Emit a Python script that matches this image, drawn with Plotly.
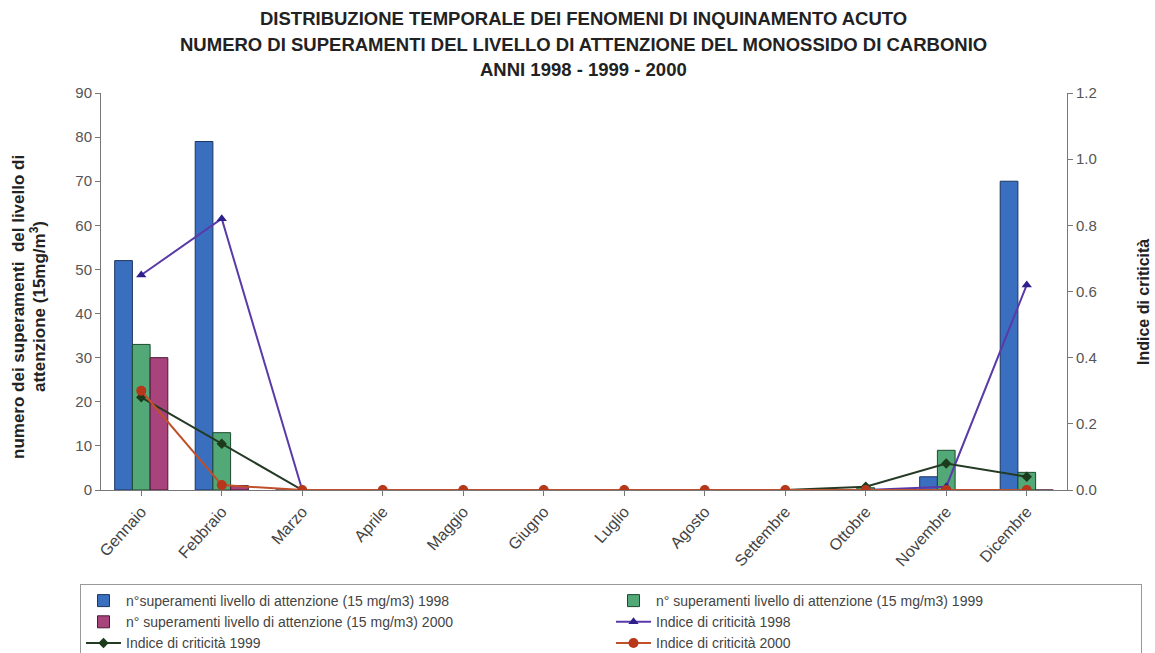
import plotly.graph_objects as go

months = ["Gennaio", "Febbraio", "Marzo", "Aprile", "Maggio", "Giugno",
          "Luglio", "Agosto", "Settembre", "Ottobre", "Novembre", "Dicembre"]

sup_1998 = [52, 79, 0, 0, 0, 0, 0, 0, 0, 0, 3, 70]
sup_1999 = [33, 13, 0, 0, 0, 0, 0, 0, 0, 0.5, 9, 4]
sup_2000 = [30, 1, 0, 0, 0, 0, 0, 0, 0, 0, 0, 0]

ind_1998 = [0.65, 0.82, 0.0, 0.0, 0.0, 0.0, 0.0, 0.0, 0.0, 0.0, 0.01, 0.62]
ind_1999 = [0.28, 0.14, 0.0, 0.0, 0.0, 0.0, 0.0, 0.0, 0.0, 0.01, 0.08, 0.04]
ind_2000 = [0.30, 0.015, 0.0, 0.0, 0.0, 0.0, 0.0, 0.0, 0.0, 0.0, 0.0, 0.0]

left_ticks = [0, 10, 20, 30, 40, 50, 60, 70, 80, 90]
right_ticks = [0.0, 0.2, 0.4, 0.6, 0.8, 1.0, 1.2]

title_lines = [
    "DISTRIBUZIONE TEMPORALE DEI FENOMENI DI INQUINAMENTO ACUTO",
    "NUMERO DI SUPERAMENTI DEL LIVELLO DI ATTENZIONE DEL MONOSSIDO DI CARBONIO",
    "ANNI 1998 - 1999 - 2000",
]
left_title_lines = ["numero dei superamenti  del livello di", "attenzione (15mg/m<sup>3</sup>)"]
right_title = "Indice di criticità"

FONT = "Arial, 'Liberation Sans', sans-serif"

# plot area in pixels
L, R, T, B = 101, 1067, 93, 490
PW, PH = R - L, B - T


def px_x(x):
    return (x - L) / PW


def px_y(y):
    return (B - y) / PH


fig = go.Figure()
fig.add_trace(go.Bar(x=months, y=sup_1998, name="n°superamenti livello di attenzione (15 mg/m3) 1998",
                     marker=dict(color="#3a6fc0", line=dict(color="#1c3560", width=1))))
fig.add_trace(go.Bar(x=months, y=sup_1999, name="n° superamenti livello di attenzione (15 mg/m3) 1999",
                     marker=dict(color="#52a876", line=dict(color="#1d4a30", width=1))))
fig.add_trace(go.Bar(x=months, y=sup_2000, name="n° superamenti livello di attenzione (15 mg/m3) 2000",
                     marker=dict(color="#a8437c", line=dict(color="#4a1a35", width=1))))
fig.add_trace(go.Scatter(x=months, y=ind_1998, name="Indice di criticità 1998", yaxis="y2",
                         mode="lines+markers", line=dict(color="#5a3aa8", width=2),
                         marker=dict(symbol="triangle-up", size=9, color="#2e1f8c")))
fig.add_trace(go.Scatter(x=months, y=ind_1999, name="Indice di criticità 1999", yaxis="y2",
                         mode="lines+markers", line=dict(color="#243a24", width=2),
                         marker=dict(symbol="diamond", size=8, color="#1c3a1c")))
fig.add_trace(go.Scatter(x=months, y=ind_2000, name="Indice di criticità 2000", yaxis="y2",
                         mode="lines+markers", line=dict(color="#c0502a", width=2),
                         marker=dict(symbol="circle", size=10, color="#b8361a")))

annotations = []
for i, line in enumerate(title_lines):
    annotations.append(dict(
        text="<b>" + line + "</b>", xref="paper", yref="paper",
        x=px_x(583), xanchor="center", y=px_y(19 + 25.5 * i), yanchor="middle",
        showarrow=False, font=dict(size=18.5, color="#222222", family=FONT),
    ))
for i, line in enumerate(left_title_lines):
    annotations.append(dict(
        text="<b>" + line + "</b>", xref="paper", yref="paper", textangle=-90,
        x=px_x(18 + 20 * i), xanchor="center", y=px_y(307), yanchor="middle",
        showarrow=False, font=dict(size=17, color="#222222", family=FONT),
    ))
annotations.append(dict(
    text="<b>" + right_title + "</b>", xref="paper", yref="paper", textangle=-90,
    x=px_x(1143), xanchor="center", y=px_y(302), yanchor="middle",
    showarrow=False, font=dict(size=16, color="#222222", family=FONT),
))

fig.update_layout(
    width=1155, height=653,
    margin=dict(l=L, r=1155 - R, t=T, b=653 - B, autoexpand=False),
    paper_bgcolor="white", plot_bgcolor="white",
    font=dict(family=FONT, color="#333333", size=15),
    barmode="group", bargap=0.34, bargroupgap=0,
    annotations=annotations,
    xaxis=dict(
        range=[-0.5, 11.5], tickangle=-48, showline=True, linecolor="#777777", linewidth=1,
        ticks="outside", ticklen=5, tickcolor="#777777",
        tickfont=dict(size=16, color="#444444"), showgrid=False,
    ),
    yaxis=dict(
        range=[0, 90], tickvals=left_ticks, showline=True, linecolor="#777777", linewidth=1,
        ticks="outside", ticklen=5, tickcolor="#777777", showgrid=False, zeroline=False,
        tickfont=dict(size=15, color="#555555"),
    ),
    yaxis2=dict(
        range=[0, 1.2], tickvals=right_ticks, tickformat=".1f", overlaying="y", side="right",
        showline=True, linecolor="#777777", linewidth=1, ticks="outside", ticklen=5,
        tickcolor="#777777", showgrid=False, zeroline=False,
        tickfont=dict(size=15, color="#555555"),
    ),
    legend=dict(
        orientation="h", x=px_x(80), xanchor="left", y=px_y(584), yanchor="top",
        entrywidth=480, entrywidthmode="pixels",
        bordercolor="#999999", borderwidth=1, bgcolor="white",
        font=dict(size=14, color="#444444"), tracegroupgap=0,
        itemwidth=35,
    ),
)

fig.write_html("out.html")
